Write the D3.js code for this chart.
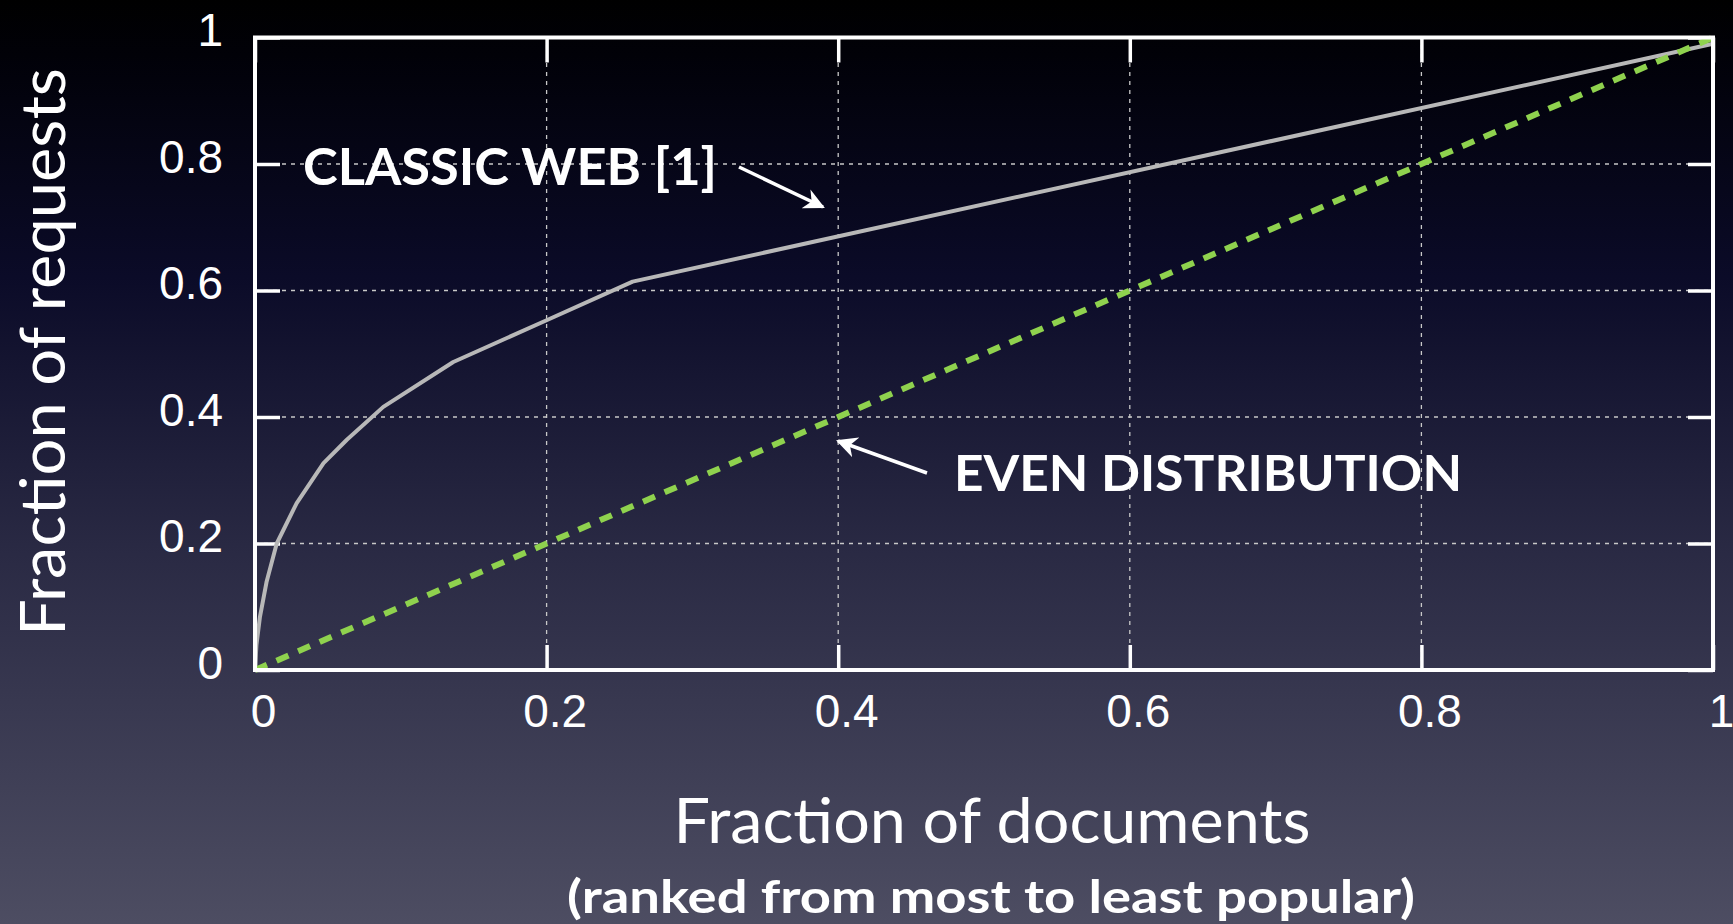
<!DOCTYPE html>
<html lang="en">
<head>
  <meta charset="UTF-8">
  <title>Fraction of requests vs documents</title>
  <script src="https://d3js.org/d3.v7.min.js"></script>
  <style>
    html, body { margin: 0; padding: 0; background: #000; }
    svg { display: block; }
  </style>
</head>
<body>
  <svg width="1733" height="924"></svg>

  <script>
    // Classic web curve (fraction of documents, fraction of requests)
    const webX = [0, 0.001, 0.0034, 0.008, 0.0149, 0.0286, 0.047, 0.063, 0.088, 0.136, 0.2, 0.259, 1];
    const webY = [0, 0.04, 0.084, 0.14, 0.2, 0.264, 0.327, 0.364, 0.416, 0.487, 0.553, 0.614, 0.99];
    // Even distribution
    const evenX = [0, 1];
    const evenY = [0, 1];
    const tickVals = [0, 0.2, 0.4, 0.6, 0.8, 1];
    const gridVals = [0.2, 0.4, 0.6, 0.8];

    const svg = d3.select("svg");
    const W = 1733, H = 924;

    // background gradient
    const defs = svg.append("defs");
    const grad = defs.append("linearGradient")
      .attr("id", "bg").attr("x1", 0).attr("y1", 0).attr("x2", 0).attr("y2", 1);
    [["0%", "#000000"], ["6%", "#010108"], ["30%", "#0b0b28"], ["60%", "#2a2a44"], ["100%", "#4d4d62"]]
      .forEach(([o, c]) => grad.append("stop").attr("offset", o).attr("stop-color", c));
    svg.append("rect").attr("width", W).attr("height", H).attr("fill", "url(#bg)");

    defs.append("marker")
      .attr("id", "arrow")
      .attr("viewBox", "0 0 10 10")
      .attr("refX", 9).attr("refY", 5)
      .attr("markerWidth", 6).attr("markerHeight", 6)
      .attr("markerUnits", "strokeWidth")
      .attr("orient", "auto")
      .append("path")
      .attr("d", "M0,0 L10,5 L0,10 L3,5 Z")
      .attr("fill", "#fff");

    const x = d3.scaleLinear().domain([0, 1]).range([255, 1713]);
    const y = d3.scaleLinear().domain([0, 1]).range([670, 37.5]);

    // grid
    const grid = svg.append("g").attr("stroke", "#c8c8c8").attr("stroke-width", 1.3)
      .attr("stroke-dasharray", "4,5");
    grid.selectAll(".gx").data(gridVals).join("line")
      .attr("x1", d => x(d)).attr("x2", d => x(d))
      .attr("y1", y(0)).attr("y2", y(1));
    grid.selectAll(".gy").data(gridVals).join("line")
      .attr("y1", d => y(d)).attr("y2", d => y(d))
      .attr("x1", x(0)).attr("x2", x(1));

    // axes with inward ticks
    const tickStyle = g => {
      g.select(".domain").remove();
      g.selectAll(".tick line").attr("stroke", "#fff").attr("stroke-width", 3.5);
      g.selectAll("text").attr("fill", "#fff")
        .style("font-family", "'Liberation Sans', Arial, sans-serif")
        .style("font-size", "46px");
    };

    svg.append("g").attr("transform", `translate(0,${y(0)})`)
      .call(d3.axisBottom(x).tickValues(tickVals).tickSizeInner(-25).tickSizeOuter(0).tickPadding(24)
        .tickFormat(d3.format("")))
      .call(tickStyle)
      .call(g => g.selectAll("text").attr("dx", "8"));

    svg.append("g").attr("transform", `translate(${x(0)},0)`)
      .call(d3.axisLeft(y).tickValues(tickVals).tickSizeInner(-25).tickSizeOuter(0).tickPadding(32)
        .tickFormat(d3.format("")))
      .call(tickStyle)
      .call(g => g.selectAll("text").attr("dy", "0.18em"));

    svg.append("g").attr("transform", `translate(0,${y(1)})`)
      .call(d3.axisTop(x).tickValues(tickVals).tickSizeInner(-25).tickSizeOuter(0).tickFormat(""))
      .call(tickStyle);

    svg.append("g").attr("transform", `translate(${x(1)},0)`)
      .call(d3.axisRight(y).tickValues(tickVals).tickSizeInner(-25).tickSizeOuter(0).tickFormat(""))
      .call(tickStyle);

    // lines
    const line = d3.line().x(d => x(d[0])).y(d => y(d[1]));

    svg.append("path")
      .datum(d3.zip(webX, webY))
      .attr("fill", "none")
      .attr("stroke", "#b8b8b8")
      .attr("stroke-width", 4)
      .attr("stroke-linejoin", "round")
      .attr("d", line);

    svg.append("path")
      .datum(d3.zip(evenX, evenY))
      .attr("fill", "none")
      .attr("stroke", "#8fd24e")
      .attr("stroke-width", 6)
      .attr("stroke-dasharray", "13,10.5")
      .attr("d", line);

    // frame
    svg.append("rect")
      .attr("x", x(0)).attr("y", y(1))
      .attr("width", x(1) - x(0)).attr("height", y(0) - y(1))
      .attr("fill", "none").attr("stroke", "#fff").attr("stroke-width", 4);

    // annotations
    const bold = "Lato, 'Open Sans', sans-serif";
    svg.append("text")
      .attr("x", 303).attr("y", 185)
      .attr("fill", "#fff")
      .style("font-family", bold).style("font-weight", "bold").style("font-size", "51px")
      .attr("textLength", 414).attr("lengthAdjust", "spacingAndGlyphs")
      .text("CLASSIC WEB [1]");
    svg.append("line")
      .attr("x1", 739).attr("y1", 167).attr("x2", 823).attr("y2", 207)
      .attr("stroke", "#fff").attr("stroke-width", 3.5).attr("marker-end", "url(#arrow)");

    svg.append("text")
      .attr("x", 954).attr("y", 491)
      .attr("fill", "#fff")
      .style("font-family", bold).style("font-weight", "bold").style("font-size", "50px")
      .attr("textLength", 508).attr("lengthAdjust", "spacingAndGlyphs")
      .text("EVEN DISTRIBUTION");
    svg.append("line")
      .attr("x1", 927).attr("y1", 473).attr("x2", 838).attr("y2", 441)
      .attr("stroke", "#fff").attr("stroke-width", 3.5).attr("marker-end", "url(#arrow)");

    // axis titles
    const sans = "Lato, 'Open Sans', sans-serif";
    svg.append("text")
      .attr("transform", "translate(65,352) rotate(-90)")
      .attr("text-anchor", "middle")
      .attr("fill", "#fff")
      .style("font-family", sans).style("font-size", "62px")
      .attr("textLength", 568).attr("lengthAdjust", "spacingAndGlyphs")
      .text("Fraction of requests");

    svg.append("text")
      .attr("x", 992).attr("y", 843)
      .attr("text-anchor", "middle")
      .attr("fill", "#fff")
      .style("font-family", sans).style("font-size", "62px")
      .attr("textLength", 637).attr("lengthAdjust", "spacingAndGlyphs")
      .text("Fraction of documents");

    svg.append("text")
      .attr("x", 991).attr("y", 913)
      .attr("text-anchor", "middle")
      .attr("fill", "#fff")
      .style("font-family", sans).style("font-weight", "bold").style("font-size", "46px")
      .attr("textLength", 848).attr("lengthAdjust", "spacingAndGlyphs")
      .text("(ranked from most to least popular)");
  </script>
</body>
</html>
